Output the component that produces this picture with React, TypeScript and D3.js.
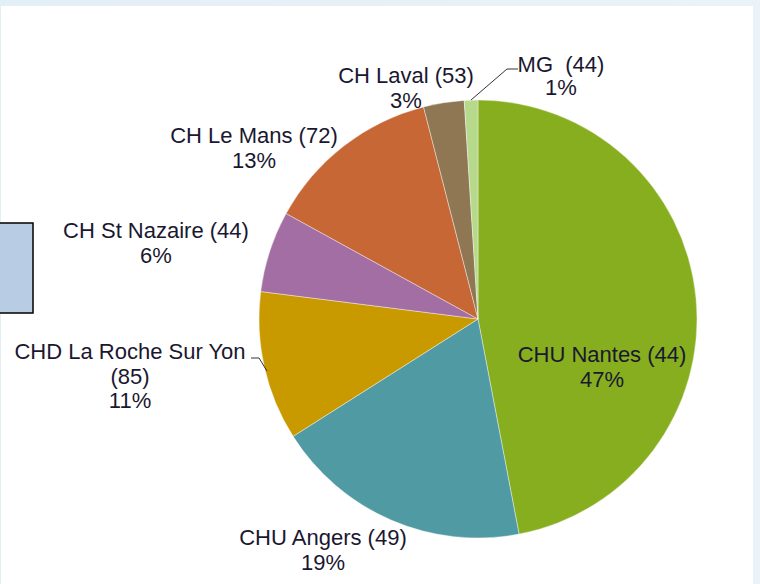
import React from "react";
import * as d3 from "d3";

const names = ["CHU Nantes", "CHU Angers", "CHD La Roche Sur Yon", "CH St Nazaire", "CH Le Mans", "CH Laval", "MG"];
const counts = [44, 49, 85, 44, 72, 53, 44];
const percents = [47, 19, 11, 6, 13, 3, 1];
const colors = ["#86ae1f", "#4f9aa3", "#c99900", "#a26ea3", "#c76735", "#8f7754", "#b7d98b"];

const labelLines: string[][] = [
  ["CHU Nantes (44)", "47%"],
  ["CHU Angers (49)", "19%"],
  ["CHD La Roche Sur Yon", "(85)", "11%"],
  ["CH St Nazaire (44)", "6%"],
  ["CH Le Mans (72)", "13%"],
  ["CH Laval (53)", "3%"],
  ["MG\u00a0 (44)", "1%"],
];
const labelPos: [number, number][] = [
  [602, 362],
  [323, 545],
  [130, 359],
  [156, 238],
  [254, 143],
  [406, 83],
  [561, 72],
];

export default function App() {
  const W = 760, H = 584;
  const cx = 478, cy = 319, r = 219;
  const pie = d3.pie<number>().sort(null).value((d) => d);
  const arcs = pie(percents);
  const arc = d3.arc<d3.PieArcDatum<number>>().innerRadius(0).outerRadius(r);
  const lineH = 24.5;
  return (
    <div style={{ position: "fixed", left: 0, top: 0, width: W, height: H }}>
      <svg width={W} height={H} style={{ display: "block" }}>
        <defs>
          <linearGradient id="bg" x1="0" x2="1" y1="0" y2="0">
            <stop offset="0" stopColor="#e2eff5" />
            <stop offset="1" stopColor="#eaf3f7" />
          </linearGradient>
        </defs>
        <rect x={0} y={0} width={W} height={H} fill="url(#bg)" />
        <rect x={1} y={6} width={752} height={H - 6} fill="#ffffff" />
        <rect x={-10} y={223} width={43} height={90} fill="#b8cce4" stroke="#000" strokeWidth={1.5} />
        <g transform={`translate(${cx},${cy})`}>
          {arcs.map((a, i) => (
            <path key={i} d={arc(a) || ""} fill={colors[i]} stroke="#ffffff" strokeWidth={0.4} />
          ))}
        </g>
        <polyline points="471,100 507,69 518,69" fill="none" stroke="#333" strokeWidth={1} />
        <polyline points="251,358 259,358 267,371" fill="none" stroke="#333" strokeWidth={1} />
        {labelLines.map((lines, i) => (
          <text
            key={i}
            textAnchor="middle"
            fontFamily="'Liberation Sans', Arial, sans-serif"
            fontSize={22}
            fill="#1a1830"
          >
            {lines.map((t, j) => (
              <tspan key={j} x={labelPos[i][0]} y={labelPos[i][1] + j * (i === 6 ? 23 : lineH)}>
                {t}
              </tspan>
            ))}
          </text>
        ))}
      </svg>
    </div>
  );
}
